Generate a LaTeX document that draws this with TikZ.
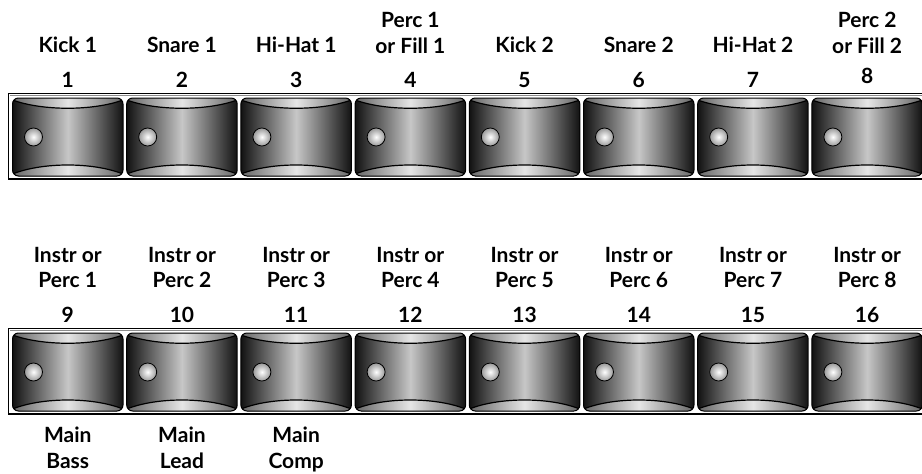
\documentclass[tikz,border=0pt]{standalone}
\usepackage{fontspec}
\setmainfont{Lato}
\begin{document}
\begin{tikzpicture}[x=1pt,y=-1pt,
  lab/.style={font=\bfseries\fontsize{21}{25}\selectfont, anchor=base, inner sep=0pt},
  frameline/.style={line width=1.6pt, draw=black},
  frameinner/.style={line width=0.8pt, draw=black!45},
  btnbody/.style={left color=black!93, right color=black!93, middle color=black!22},
  btnbevel/.style={left color=black!60, right color=black!60, middle color=black!10},
  btncurve/.style={draw=black, line width=1.2pt},
  btnedge/.style={draw=black, line width=1pt, rounded corners=6pt},
  ledstyle/.style={draw=black, line width=0.8pt, inner color=white, outer color=black!40}]
\useasboundingbox (0,0) rectangle (922,474);
\clip (0,0) rectangle (922,474);

% panel frames
\foreach \F in {93.5,328.5} {
  \draw[frameline] (8.5,\F) rectangle (940,{\F+85.5});
  \draw[frameinner] (10,{\F+2}) -- (940,{\F+2});
}

% buttons
\foreach \i in {0,...,7} {
  \pgfmathsetmacro\L{12.5+114.2*\i}
  \pgfmathsetmacro\R{\L+110.5}
  \pgfmathsetmacro\C{\L+55.25}
  \foreach \T/\row in {98/a,333/b} {
    \pgfmathsetmacro\B{\T+78}
    \begin{scope}
      \clip[rounded corners=6pt] (\L,\T) rectangle (\R,\B);
      \fill[btnbody] (\L,\T) rectangle (\R,\B);
      \fill[btnbevel] (\L,\T) -- (\L,{\T+2}) .. controls ({\L+30},{\T+13}) and ({\R-30},{\T+13}) .. (\R,{\T+2}) -- (\R,\T) -- cycle;
      \fill[btnbevel] (\L,\B) -- (\L,{\B-2}) .. controls ({\L+30},{\B-14}) and ({\R-30},{\B-14}) .. (\R,{\B-2}) -- (\R,\B) -- cycle;
      \draw[btncurve] (\L,{\T+2}) .. controls ({\L+30},{\T+13}) and ({\R-30},{\T+13}) .. (\R,{\T+2});
      \draw[btncurve] (\L,{\B-2}) .. controls ({\L+30},{\B-14}) and ({\R-30},{\B-14}) .. (\R,{\B-2});
    \end{scope}
    \draw[btnedge] (\L,\T) rectangle (\R,\B);
    \coordinate (btn\row\i) at (\C,{\T+39});
    \draw[ledstyle] ({\L+21},{\T+39}) circle (9);
  }
}

% top row labels
\foreach \i/\t in {0/Kick 1,1/Snare 1,2/Hi-Hat 1,4/Kick 2,5/Snare 2,6/Hi-Hat 2}
  \node[lab] (tl\i) at ({67.75+114.2*\i},52.5) {\t};
\node[lab] (tl3a) at ({67.75+114.2*3},27) {Perc 1};
\node[lab] (tl3b) at ({67.75+114.2*3},53) {or Fill 1};
\node[lab] (tl7a) at ({67.75+114.2*7},27) {Perc 2};
\node[lab] (tl7b) at ({67.75+114.2*7},53) {or Fill 2};
\foreach \i in {0,...,6} {
  \pgfmathtruncatemacro\n{\i+1}
  \node[lab] (tn\i) at ({67.75+114.2*\i},87) {\n};
}
\node[lab] (tn7) at ({67.75+114.2*7},83) {8};

% bottom row labels
\foreach \i in {0,...,7} {
  \pgfmathtruncatemacro\n{\i+1}
  \pgfmathtruncatemacro\m{\i+9}
  \node[lab] (bl\i a) at ({67.75+114.2*\i},262) {Instr or};
  \node[lab] (bl\i b) at ({67.75+114.2*\i},287) {Perc \n};
  \node[lab] (bn\i) at ({67.75+114.2*\i},322) {\m};
}
\foreach \i/\t in {0/Bass,1/Lead,2/Comp} {
  \node[lab] (ml\i a) at ({67.75+114.2*\i},442) {Main};
  \node[lab] (ml\i b) at ({67.75+114.2*\i},468) {\t};
}
\end{tikzpicture}
\end{document}
